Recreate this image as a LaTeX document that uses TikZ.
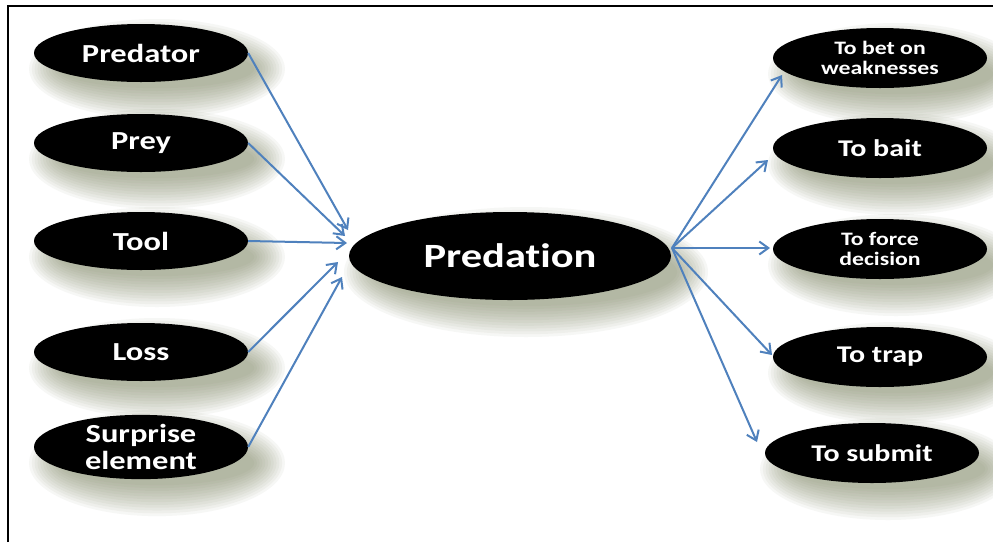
\documentclass[tikz,border=0pt]{standalone}
\usepackage{fontspec}
\newfontfamily\labelfont[FakeStretch=1.25, Ligatures=NoCommon]{Carlito}
\usetikzlibrary{
  shapes.geometric,
  arrows.meta,
  calc}
\pgfdeclarelayer{background}
\pgfsetlayers{background,main}
\definecolor{arrowcolor}{RGB}{79,129,189}
\definecolor{shadowcolor}{RGB}{118,124,88}
\definecolor{framecolor}{RGB}{0,0,0}
\tikzset{
  %% oval : common look of all the black ovals
  oval/.style={
    ellipse,
    fill=black,
    text=white,
    inner sep=0pt,
    align=center
  },
  %% cause : an element on the left
  cause/.style={
    oval,
    minimum width=214pt,
    minimum height=58pt,
    font=\labelfont\bfseries\fontsize{26pt}{27pt}\selectfont
  },
  %% centre : the central notion
  centre/.style={
    oval,
    minimum width=322pt,
    minimum height=88pt,
    font=\labelfont\bfseries\fontsize{34pt}{36pt}\selectfont
  },
  %% effect : an element on the right
  effect/.style={
    oval,
    minimum width=214pt,
    minimum height=60pt,
    font=\labelfont\bfseries\fontsize{24pt}{26pt}\selectfont
  },
  %% small : two-line labels on the right
  small/.style={
    font=\labelfont\bfseries\fontsize{19pt}{20pt}\selectfont
  },
  %% link : blue connector
  link/.style={
    arrowcolor,
    line width=2pt,
    -{Straight Barb[length=9pt,width=13pt]}
  },
  %% softlayer : one layer of the soft shadow
  softlayer/.style={fill=shadowcolor, opacity=0.06},
  %% frame : border of the figure
  frame/.style={framecolor, line width=2pt}
}

%% soft shadow below and right of a named oval
\newcommand{\ovalshadow}[1]{%
  \foreach \k in {0,...,11}{
    \fill [softlayer] let \p1 = (#1.center), \p2 = (#1.east),
    \p3 = (#1.north) in
    (\x1 + 16pt, \y1 - 16pt) ellipse
    [x radius={\x2 - \x1 - 10pt + 2.8pt*\k},
    y radius={\y3 - \y1 - 10pt + 2.8pt*\k}];
  }%
}

\begin{document}
\begin{tikzpicture}
  [x=1pt,
  y=-1pt]

  \useasboundingbox (0, 0) rectangle (993, 542);

  %% Frame (right and bottom sides are cut off)
  \draw [frame] (8, 542) -- (8, 6) -- (993, 6);

  %% Causes
  \node (predator) [cause] at (141, 53) {Predator};
  \node (prey) [cause] at (141, 143) {Prey};
  \node (tool) [cause] at (141, 241) {Tool};
  \node (loss) [cause] at (141, 352) {Loss};
  \node (surprise) [cause] at (141, 447) {Surprise\\element};

  %% Centre
  \node (predation) [centre] at (510, 256) {Predation};

  %% Effects
  \node (bet) [effect, small] at (880, 58) {To bet on\\weaknesses};
  \node (bait) [effect] at (880, 148) {To bait};
  \node (force) [effect, small] at (880, 249) {To force\\decision};
  \node (trap) [effect] at (880, 357) {To trap};
  \node (submit) [effect] at (872, 453) {To submit};

  %% Shadows behind all ovals
  \begin{pgfonlayer}{background}
    \fill [white] (0, 0) rectangle (993, 542);
    \foreach \oval in {predator, prey, tool, loss, surprise,
      predation, bet, bait, force, trap, submit}
    {\ovalshadow{\oval}}
  \end{pgfonlayer}

  %% Arrow tips round the centre
  \coordinate (tipA) at (348, 230);
  \coordinate (tipB) at (345, 236);
  \coordinate (tipC) at (347, 243);
  \coordinate (tipD) at (338, 262);
  \coordinate (tipE) at (342, 277);
  \coordinate (hub) at (672, 248);

  %% Arrow tips before the effects
  \coordinate (tipbet) at (782, 75);
  \coordinate (tipbait) at (768, 160);
  \coordinate (tipforce) at (770, 248);
  \coordinate (tiptrap) at (772, 355);
  \coordinate (tipsubmit) at (757, 442);

  %% Connections in
  \draw [link] (predator.east) -- (tipA);
  \draw [link] (prey.east) -- (tipB);
  \draw [link] (tool.east) -- (tipC);
  \draw [link] (loss.east) -- (tipD);
  \draw [link] (surprise.east) -- (tipE);

  %% Connections out
  \draw [link] (hub) -- (tipbet);
  \draw [link] (hub) -- (tipbait);
  \draw [link] (hub) -- (tipforce);
  \draw [link] (hub) -- (tiptrap);
  \draw [link] (hub) -- (tipsubmit);

\end{tikzpicture}
\end{document}
